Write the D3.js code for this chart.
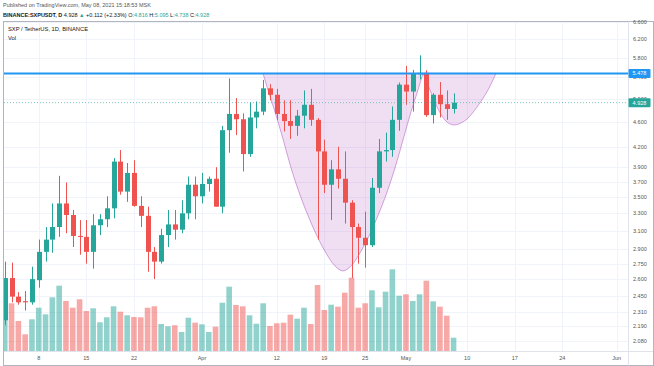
<!DOCTYPE html>
<html>
<head>
<meta charset="utf-8">
<script src="https://d3js.org/d3.v7.min.js"></script>
<style>
  body { margin: 0; background: #fff; }
  svg { display: block; font-family: "Liberation Sans", Arial, sans-serif; }
</style>
</head>
<body>
<svg id="chart" width="654" height="366"></svg>
<script>
// daily candles SXP/USDT, 2021-03-03 .. 2021-05-08
var firstDay = Date.UTC(2021, 2, 3);
var lastDay = Date.UTC(2021, 4, 8);
var opens  = [2.24,2.61,2.44,2.40,2.39,2.59,2.87,3.00,3.14,3.42,3.28,3.04,3.03,2.87,3.16,3.23,3.36,3.98,3.57,3.82,3.39,3.27,2.87,2.77,3.05,3.17,3.11,3.30,3.66,3.51,3.67,3.74,3.38,4.46,4.73,4.64,4.09,4.67,4.77,5.19,5.07,4.73,4.61,4.53,4.70,4.89,4.63,4.13,3.66,3.87,3.74,3.43,3.14,3.02,2.94,3.62,4.13,4.15,4.63,5.26,5.13,5.46,5.49,4.71,5.07,4.90,4.816];
var highs  = [2.77,2.76,2.48,2.49,2.72,3.00,3.14,3.42,3.78,3.69,3.34,3.22,3.22,3.29,3.29,3.51,4.03,4.15,3.96,4.00,3.51,3.38,2.92,3.12,3.34,3.34,3.46,3.77,3.77,3.82,3.77,3.90,4.53,5.38,5.01,4.74,4.93,4.95,5.35,5.27,5.18,4.97,4.97,4.80,5.15,5.18,4.66,4.31,4.00,4.20,4.13,3.46,3.18,3.32,3.75,4.32,4.42,4.86,5.30,5.63,5.55,5.85,5.54,5.10,5.31,5.15,5.095];
var lows   = [2.20,2.39,2.37,2.32,2.37,2.52,2.77,2.86,3.03,3.07,2.92,2.84,2.75,2.70,3.05,3.14,3.24,3.53,3.44,3.38,3.14,2.67,2.60,2.75,2.92,3.00,3.07,3.23,3.23,3.42,3.57,3.38,3.30,4.11,4.38,3.84,4.05,4.49,4.71,4.97,4.63,4.44,4.32,4.37,4.49,4.53,3.00,3.55,3.22,3.61,3.18,2.61,2.75,2.71,2.92,3.55,3.98,4.05,4.45,4.89,4.77,5.36,4.68,4.57,4.67,4.63,4.738];
var closes = [2.61,2.44,2.39,2.39,2.60,2.87,3.00,3.14,3.42,3.28,3.04,3.03,2.87,3.16,3.23,3.36,3.98,3.57,3.82,3.39,3.27,2.87,2.77,3.05,3.17,3.11,3.30,3.66,3.51,3.67,3.74,3.38,4.46,4.73,4.64,4.09,4.67,4.77,5.19,5.07,4.73,4.61,4.53,4.70,4.89,4.63,4.13,3.66,3.87,3.74,3.43,3.14,3.02,2.94,3.62,4.13,4.15,4.63,5.26,5.13,5.48,5.49,4.71,5.07,4.90,4.816,4.928];
var volumes = [51,47.7,30,16.7,31.7,43.3,36.7,53.7,65.3,50,43.3,51.7,40,42.7,28.7,33.7,44.7,39.3,35.7,34,33.7,43.3,44.7,27,24.7,25.7,19,33.3,28.3,26.7,19,24.3,48.3,64.3,46,44.7,35.7,27.3,47.7,25,27.7,28.3,36.3,32.3,43.3,27,66,41,46.3,44.3,58.3,73.3,43.3,47.7,60.7,43.7,59.3,81.7,55.3,56.7,50,56.7,70.3,49.7,44.3,35.3,13.3];

var priceTicks = [6.6,6.2,5.8,5.4,5.0,4.6,4.2,3.9,3.7,3.5,3.3,3.1,2.9,2.75,2.6,2.45,2.31,2.19,2.08];
var timeTicks = [Date.UTC(2021,2,8),Date.UTC(2021,2,15),Date.UTC(2021,2,22),Date.UTC(2021,3,1),Date.UTC(2021,3,12),Date.UTC(2021,3,19),Date.UTC(2021,3,25),Date.UTC(2021,4,1),Date.UTC(2021,4,10),Date.UTC(2021,4,17),Date.UTC(2021,4,24),Date.UTC(2021,5,1)];
var timeLabels = ["8","15","22","Apr","12","19","25","May","10","17","24","Jun"];

// resistance line and cup / handle drawing (day offset from first candle, price)
var resistance = 5.478;
var lastPrice = 4.928;
var cupDays   = [37.98,38.71,39.74,40.96,42.10,43.42,44.74,45.92,47.24,48.57,49.74,50.92,52.24,53.57,54.74,56.07,57.39,58.57,59.74,60.77,61.51];
var cupPrices = [5.478,5.159,4.764,4.305,3.889,3.526,3.245,3.039,2.858,2.727,2.678,2.727,2.858,3.039,3.245,3.526,3.889,4.305,4.764,5.159,5.478];
var handleDays   = [61.51,62.83,64.01,65.18,66.21,67.83,69.45,71.07,72.24];
var handlePrices = [5.478,5.07,4.75,4.58,4.545,4.63,4.85,5.16,5.478];

var up = "#26a69a", down = "#ef5350";
var plotL = 4, plotR = 628, plotT = 21.5, plotB = 351;

var dates = d3.utcDay.range(new Date(firstDay), new Date(lastDay + 864e5));
var candles = dates.map(function(d, i){
    return {date: d, o: opens[i], h: highs[i], l: lows[i], c: closes[i], v: volumes[i]};
});

var svg = d3.select("#chart");

var x = d3.scaleUtc()
    .domain([new Date(firstDay), new Date(Date.UTC(2021,5,1))])
    .range([4.75, 616.75]);
var y = d3.scaleLog().domain([2.08, 6.6]).range([340.7, 22]);
var yVol = d3.scaleLinear().domain([0, 100]).range([plotB, plotB - 100]);

function dayDate(off){ return new Date(firstDay + off * 864e5); }

svg.append("defs").append("clipPath").attr("id", "plot")
    .append("rect").attr("x", plotL).attr("y", plotT)
    .attr("width", plotR - plotL).attr("height", plotB - plotT);

// grid
svg.append("g").selectAll("line").data(timeTicks).join("line")
    .attr("x1", function(d){ return Math.round(x(d)) + 0.5; })
    .attr("x2", function(d){ return Math.round(x(d)) + 0.5; })
    .attr("y1", plotT).attr("y2", plotB)
    .attr("stroke", "#f0f3fa");
svg.append("g").selectAll("line").data(priceTicks).join("line")
    .attr("x1", plotL).attr("x2", plotR)
    .attr("y1", function(d){ return Math.round(y(d)) + 0.5; })
    .attr("y2", function(d){ return Math.round(y(d)) + 0.5; })
    .attr("stroke", "#f0f3fa");

var plot = svg.append("g").attr("clip-path", "url(#plot)");

// cup & handle shapes
var shapeLine = d3.line()
    .x(function(d){ return x(dayDate(d[0])); })
    .y(function(d){ return y(d[1]); })
    .curve(d3.curveCatmullRom);
[[cupDays, cupPrices], [handleDays, handlePrices]].forEach(function(s){
    var pts = s[0].map(function(d, i){ return [d, s[1][i]]; });
    plot.append("path")
        .attr("d", shapeLine(pts) + "Z")
        .attr("fill", "rgba(186,104,200,0.22)")
        .attr("stroke", "rgba(156,39,176,0.5)")
        .attr("stroke-width", 0.8);
});

// volume
plot.append("g").selectAll("rect").data(candles).join("rect")
    .attr("x", function(d){ return x(d.date) - 2.8; })
    .attr("width", 5.6)
    .attr("y", function(d){ return yVol(d.v); })
    .attr("height", function(d){ return plotB - yVol(d.v); })
    .attr("fill", function(d){ return d.c >= d.o ? "rgba(38,166,154,0.5)" : "rgba(239,83,80,0.5)"; });

// candles
var cg = plot.append("g").selectAll("g").data(candles).join("g");
cg.append("line")
    .attr("x1", function(d){ return Math.round(x(d.date)) + 0.5; })
    .attr("x2", function(d){ return Math.round(x(d.date)) + 0.5; })
    .attr("y1", function(d){ return y(d.h); })
    .attr("y2", function(d){ return y(d.l); })
    .attr("stroke", function(d){ return d.c >= d.o ? up : down; })
    .attr("stroke-width", 1);
cg.append("rect")
    .attr("x", function(d){ return Math.round(x(d.date)) - 2; })
    .attr("width", 5)
    .attr("y", function(d){ return y(Math.max(d.o, d.c)); })
    .attr("height", function(d){ return Math.max(1, Math.abs(y(d.o) - y(d.c))); })
    .attr("fill", function(d){ return d.c >= d.o ? up : down; });

// last price and resistance lines
plot.append("line")
    .attr("x1", plotL).attr("x2", plotR)
    .attr("y1", y(lastPrice)).attr("y2", y(lastPrice))
    .attr("stroke", up).attr("stroke-opacity", 0.6)
    .attr("stroke-dasharray", "1,2");
plot.append("line")
    .attr("x1", plotL).attr("x2", plotR)
    .attr("y1", y(resistance)).attr("y2", y(resistance))
    .attr("stroke", "#2196f3").attr("stroke-width", 2);

// axes frame
svg.append("rect").attr("x", 3.5).attr("y", 21.5).attr("width", 650).attr("height", 344)
    .attr("fill", "none").attr("stroke", "#b2b5be");
svg.append("line").attr("x1", plotR + 0.5).attr("x2", plotR + 0.5).attr("y1", 21.5).attr("y2", 365.5)
    .attr("stroke", "#e0e3eb");
svg.append("line").attr("x1", 4).attr("x2", 653).attr("y1", plotB + 0.5).attr("y2", plotB + 0.5)
    .attr("stroke", "#e0e3eb");

// price axis labels
svg.append("g").selectAll("text").data(priceTicks).join("text")
    .attr("x", 633).attr("y", function(d){ return y(d) + 2; })
    .attr("font-size", 5.5).attr("fill", "#555")
    .text(function(d){ return d.toFixed(3); });

function priceBox(v, color){
    var g = svg.append("g");
    g.append("rect").attr("x", 628.5).attr("y", y(v) - 4.5)
        .attr("width", 22).attr("height", 9).attr("rx", 1).attr("fill", color);
    g.append("text").attr("x", 639.5).attr("y", y(v) + 2)
        .attr("text-anchor", "middle").attr("font-size", 5.5).attr("fill", "#fff")
        .text(v.toFixed(3));
}
priceBox(resistance, "#2196f3");
priceBox(lastPrice, up);

// time axis labels
svg.append("g").selectAll("text").data(timeTicks).join("text")
    .attr("x", function(d){ return x(d); }).attr("y", 360)
    .attr("text-anchor", "middle").attr("font-size", 5.5).attr("fill", "#555")
    .text(function(d, i){ return timeLabels[i]; });

// header
svg.append("text").attr("x", 3).attr("y", 7).attr("font-size", 5.5).attr("fill", "#555")
    .text("Published on TradingView.com, May 08, 2021 15:18:53 MSK");
var h2 = svg.append("text").attr("x", 3).attr("y", 17).attr("font-size", 5.5).attr("fill", "#131722");
h2.append("tspan").attr("font-weight", "bold").text("BINANCE:SXPUSDT, D ");
h2.append("tspan").text("4.928 ");
h2.append("tspan").attr("fill", up).text("▲");
h2.append("tspan").text(" +0.112 (+2.33%) O:");
h2.append("tspan").attr("fill", up).text("4.816");
h2.append("tspan").text(" H:");
h2.append("tspan").attr("fill", up).text("5.095");
h2.append("tspan").text(" L:");
h2.append("tspan").attr("fill", up).text("4.738");
h2.append("tspan").text(" C:");
h2.append("tspan").attr("fill", up).text("4.928");

svg.append("text").attr("x", 8).attr("y", 31).attr("font-size", 5.8).attr("fill", "#131722")
    .text("SXP / TetherUS, 1D, BINANCE");
svg.append("text").attr("x", 8).attr("y", 39.5).attr("font-size", 5.8).attr("fill", "#131722")
    .text("Vol");
</script>
</body>
</html>
